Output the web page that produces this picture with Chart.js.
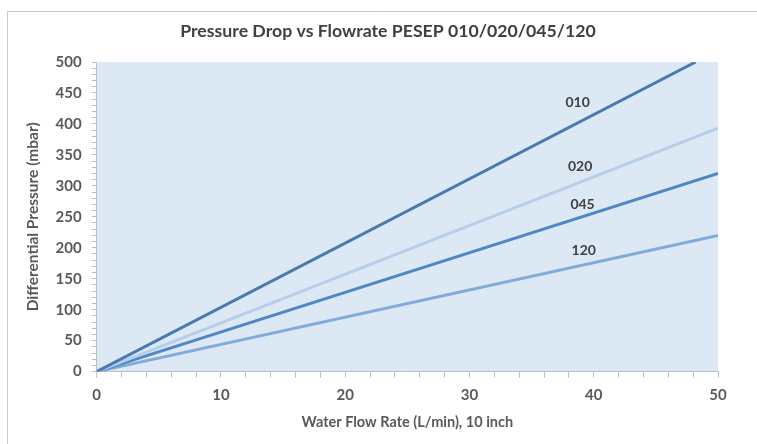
<!DOCTYPE html>
<html>
<head>
<meta charset="utf-8">
<script src="https://cdn.jsdelivr.net/npm/chart.js@4"></script>
<style>
html,body{margin:0;padding:0;background:#fff;}
#wrap{position:relative;width:757px;height:444px;}
</style>
</head>
<body>
<div id="wrap"><canvas id="c" width="757" height="444"></canvas></div>
<script>
const chartTitle = 'Pressure Drop vs Flowrate PESEP 010/020/045/120';
const seriesNames = ["010", "020", "045", "120"];
const flow010 = [0, 48.2];
const dp010 = [0, 500];
const flow020 = [0, 50];
const dp020 = [0, 393];
const flow045 = [0, 50];
const dp045 = [0, 320];
const flow120 = [0, 50];
const dp120 = [0, 220];
const labelX = [38.7, 38.9, 39.1, 39.2];
const labelY = [435, 332, 270, 196];
const colors = ["#4a79ad", "#b7cde9", "#4f87c4", "#80aadb"];

const flows = [flow010, flow020, flow045, flow120];
const dps = [dp010, dp020, dp045, dp120];

const datasets = seriesNames.map((n, i) => ({
  label: n,
  data: flows[i].map((x, j) => ({x: x, y: dps[i][j]})),
  borderColor: colors[i],
  borderWidth: 3,
  pointRadius: 0,
  fill: false,
  tension: 0
}));

const FONT = "Lato, 'Open Sans', sans-serif";

const decor = {
  id: 'decor',
  beforeDraw(chart) {
    const ctx = chart.ctx;
    const a = chart.chartArea;
    ctx.save();
    ctx.fillStyle = '#dde8f5';
    ctx.fillRect(a.left, a.top, a.right - a.left, a.bottom - a.top);
    ctx.strokeStyle = '#c8c8c8';
    ctx.lineWidth = 1;
    ctx.beginPath();
    ctx.moveTo(7.5, 444);
    ctx.lineTo(7.5, 11.5);
    ctx.lineTo(757, 11.5);
    ctx.stroke();
    ctx.font = "bold 17.7px " + FONT;
    ctx.fillStyle = '#404040';
    ctx.textAlign = 'center';
    ctx.textBaseline = 'middle';
    ctx.fillText(chartTitle, 388, 31);
    ctx.restore();
  },
  afterDatasetsDraw(chart) {
    const ctx = chart.ctx;
    const xs = chart.scales.x, ys = chart.scales.y;
    ctx.save();
    ctx.font = "bold 14px " + FONT;
    ctx.fillStyle = '#404040';
    ctx.textAlign = 'center';
    ctx.textBaseline = 'middle';
    seriesNames.forEach((n, i) => {
      ctx.fillText(n, xs.getPixelForValue(labelX[i]), ys.getPixelForValue(labelY[i]));
    });
    ctx.restore();
  }
};

new Chart(document.getElementById('c'), {
  type: 'line',
  data: {datasets},
  options: {
    responsive: false,
    animation: false,
    layout: {padding: {left: 24, right: 39, top: 62, bottom: 13}},
    plugins: {
      legend: {display: false},
      tooltip: {enabled: false},
      title: {display: false}
    },
    scales: {
      x: {
        type: 'linear',
        min: 0, max: 50,
        ticks: {
          stepSize: 2,
          autoSkip: false,
          maxRotation: 0,
          color: '#595959',
          font: {family: FONT, size: 15, weight: 'bold'},
          padding: 9,
          callback: v => (v % 10 === 0 ? String(v) : '')
        },
        grid: {drawOnChartArea: false, tickLength: 6, color: '#bfbfbf'},
        border: {color: '#bfbfbf'},
        title: {
          display: true,
          text: 'Water Flow Rate (L/min), 10 inch',
          color: '#595959',
          font: {family: FONT, size: 14.5, weight: 'bold'},
          padding: {top: 0, bottom: 0}
        }
      },
      y: {
        min: 0, max: 500,
        ticks: {
          stepSize: 10,
          autoSkip: false,
          color: '#595959',
          font: {family: FONT, size: 15, weight: 'bold'},
          padding: 10,
          callback: v => (v % 50 === 0 ? String(v) : '')
        },
        grid: {drawOnChartArea: false, tickLength: 5, color: '#bfbfbf'},
        border: {color: '#bfbfbf'},
        title: {
          display: true,
          text: 'Differential Pressure (mbar)',
          color: '#595959',
          font: {family: FONT, size: 15.5, weight: 'bold'},
          padding: {top: 0, bottom: 3}
        }
      }
    }
  },
  plugins: [decor]
});
</script>
</body>
</html>
